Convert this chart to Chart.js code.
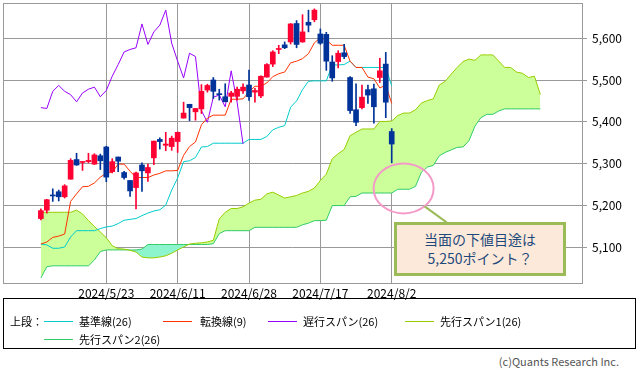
<!DOCTYPE html>
<html>
<head>
<meta charset="utf-8">
<script src="https://cdn.jsdelivr.net/npm/chart.js@4.4.1/dist/chart.umd.min.js"></script>
<style>
  body { margin: 0; background: #fff; }
  #wrap { position: relative; width: 639px; height: 369px; font-family: "Noto Sans CJK JP", sans-serif; color: #000; }
  #c { position: absolute; left: 0; top: 0; }
  #legend { position: absolute; left: 3px; top: 298px; width: 631px; height: 49px; border: 1px solid #000; font-size: 11px; }
  .it { position: absolute; white-space: nowrap; line-height: 14px; }
  .sw { position: absolute; height: 1px; width: 29px; }
  #copy { position: absolute; right: 20px; top: 353px; font-size: 11px; color: #555; }
  #note { position: absolute; left: 394px; top: 222px; width: 172px; height: 54px; box-sizing: border-box;
          border: 3px solid #9bbb59; background: #fde9d9; color: #1f497d; font-size: 14px;
          text-align: center; line-height: 19px; padding-top: 5px; }
</style>
</head>
<body>
<div id="wrap">
  <canvas id="c" width="639" height="300"></canvas>
  <div id="legend">
    <span class="it" style="left:6px;top:15px">上段：</span>
    <span class="sw" style="left:40px;top:22px;background:#00cccc"></span>
    <span class="it" style="left:75px;top:15px">基準線(26)</span>
    <span class="sw" style="left:159px;top:22px;background:#ff3300"></span>
    <span class="it" style="left:196px;top:15px">転換線(9)</span>
    <span class="sw" style="left:264px;top:22px;background:#9900ff"></span>
    <span class="it" style="left:299px;top:15px">遅行スパン(26)</span>
    <span class="sw" style="left:401px;top:22px;background:#99cc00"></span>
    <span class="it" style="left:436px;top:15px">先行スパン1(26)</span>
    <span class="sw" style="left:40px;top:40px;background:#33cc66"></span>
    <span class="it" style="left:75px;top:33px">先行スパン2(26)</span>
  </div>
  <div id="copy">(c)Quants Research Inc.</div>
  <div id="note">当面の下値目途は<br>5,250ポイント？</div>
</div>
<script>
// daily candles 2024/5/8 .. 2024/8/2 (index 0..59)
const opens = [5169,5189,5225,5233,5221,5263,5310,5303,5305,5299,5319,5340,5281,5316,5279,5260,5243,5297,5278,5314,
  5358,5344,5341,5353,5409,5442,5424,5431,5476,5500,5467,5460,5461,5461,5474,5488,5471,5462,5507,5538,
  5573,5584,5591,5635,5591,5638,5644,5610,5609,5543,5544,5565,5506,5429,5434,5477,5479,5506,5538,5377];
const highs = [5192,5215,5240,5237,5250,5312,5325,5305,5325,5324,5323,5342,5312,5316,5282,5260,5280,5302,5299,5354,
  5362,5375,5366,5376,5447,5442,5432,5489,5490,5506,5478,5491,5473,5483,5491,5524,5480,5510,5539,5570,
  5583,5591,5635,5642,5656,5667,5670,5622,5614,5558,5570,5585,5508,5491,5488,5488,5490,5552,5566,5384];
const lows = [5166,5182,5210,5211,5218,5263,5296,5284,5302,5298,5286,5257,5278,5281,5263,5222,5192,5234,5258,5298,
  5335,5331,5332,5327,5409,5403,5404,5420,5471,5456,5452,5448,5447,5452,5468,5451,5447,5458,5507,5532,
  5563,5575,5586,5577,5590,5615,5639,5585,5523,5497,5529,5551,5420,5391,5431,5444,5397,5494,5410,5302];
const closes = [5188,5214,5223,5221,5247,5308,5297,5303.3,5308,5321,5307,5268,5305,5306,5267,5235,5278,5283,5291,5354,
  5353,5347,5361,5375,5421,5434,5432,5473,5487,5473,5465,5448,5469,5478,5483,5460,5475,5509,5537,5567,
  5573,5577,5634,5585,5615,5631,5667,5588,5545,5505,5564,5556,5427,5399,5459,5464,5436,5522,5447,5347];

const tenkan = [5108,5113,5124,5127,5132,5210,5228,5245,5246,5254,5268,5277,5280,5299,5299,5282,5267,5267,5267,5273,
  5277,5283,5283,5284,5320,5341,5352,5393,5409,5416,5416,5416,5454,5454,5455,5472,5485,5485,5493,5508,
  5515,5519,5541,5545,5551,5563,5589,5601,5596,5583,5583,5583,5545,5530,5530,5507,5503,5481,5488,5444];
const kijun = [5108,5106,5098,5098,5101,5125,5140,5140,5140,5140,5145,5149,5151,5157,5165,5167,5169,5176,5182,5187,
  5190,5201,5237,5266,5305,5307,5315,5340,5341,5349,5349,5349,5349,5349,5349,5358,5358,5358,5365,5381,
  5387,5391,5435,5450,5477,5497,5498,5498,5498,5536,5536,5537,5545,5530,5530,5530,5530,5530,5530,5486];
// chikou span: the close plotted 25 sessions back
const chikou = closes.slice(25);
const span1 = [5184,5184,5184,5184,5184,5184,5189,5180,5164,5150,5137,5123,5104,5097,5096,5093,5089,5077,5075,5075,
  5077,5080,5086,5094,5101,5108,5110,5111,5113,5117,5168,5184,5193,5193,5197,5206,5213,5215,5228,5232,
  5225,5218,5221,5224,5230,5234,5242,5260,5275,5312,5324,5334,5367,5375,5383,5383,5383,5401,5401,5402,
  5415,5421,5421,5429,5445,5451,5455,5488,5497,5514,5530,5544,5550,5547,5560,5560,5560,5545,5530,5530,
  5519,5516,5506,5509,5465];
const span2 = [5027,5054,5056,5056,5056,5056,5056,5056,5056,5070,5090,5094,5094,5094,5094,5094,5094,5096,5107,5107,
  5107,5107,5107,5107,5107,5107,5107,5107,5107,5109,5133,5140,5140,5140,5140,5140,5148,5148,5148,5148,
  5148,5148,5148,5148,5154,5158,5164,5164,5165,5200,5200,5200,5221,5222,5230,5230,5230,5230,5230,5230,
  5239,5239,5239,5246,5280,5292,5296,5319,5327,5333,5339,5340,5355,5390,5410,5418,5418,5426,5431,5431,
  5431,5431,5431,5431,5431];

const tickIdx = [11, 23, 35, 47, 59];
const tickLabels = ['2024/5/23', '2024/6/11', '2024/6/28', '2024/7/17', '2024/8/2'];
const yTicks = [5100, 5200, 5300, 5400, 5500, 5600];
const ringIdx = 61, ringVal = 5241;

const up = '#ff0033', down = '#003399';
const candleColors = closes.map((c, i) => c >= opens[i] ? up : down);
const xy = (arr, start) => arr.map((v, i) => ({x: i + (start || 0), y: v}));

Chart.defaults.font.family = '"Noto Sans CJK JP", sans-serif';
Chart.defaults.font.size = 12;
Chart.defaults.color = '#000';

const frame = {
  id: 'frame',
  beforeDatasetsDraw(chart) {
    const a = chart.chartArea, ctx = chart.ctx;
    ctx.save();
    ctx.strokeStyle = '#999';
    ctx.lineWidth = 1;
    ctx.strokeRect(Math.round(a.left) + 0.5, Math.round(a.top) + 0.5, Math.round(a.right - a.left), Math.round(a.bottom - a.top));
    ctx.restore();
  },
  afterDatasetsDraw(chart) {
    const {ctx, scales: {x, y}} = chart;
    const cx = x.getPixelForValue(ringIdx), cy = y.getPixelForValue(ringVal);
    ctx.save();
    ctx.strokeStyle = '#f59ac8';
    ctx.lineWidth = 2;
    ctx.beginPath();
    ctx.ellipse(cx, cy, 30, 25, 0, 0, Math.PI * 2);
    ctx.stroke();
    ctx.strokeStyle = '#9bbb59';
    ctx.beginPath();
    ctx.moveTo(cx + 21, cy + 18);
    ctx.lineTo(cx + 43, cy + 34);
    ctx.stroke();
    ctx.restore();
  }
};

const line = (label, data, color, order) => ({
  type: 'line', label, data, borderColor: color, borderWidth: 1,
  pointRadius: 0, tension: 0, fill: false, order
});

new Chart(document.getElementById('c'), {
  type: 'line',
  data: {
    datasets: [
      {type: 'bar', label: 'body', data: opens.map((o, i) => ({x: i, y: [o, closes[i]]})),
        backgroundColor: candleColors, barThickness: 5, grouped: false, minBarLength: 1, order: 0},
      {type: 'bar', label: 'wick', data: lows.map((l, i) => ({x: i, y: [l, highs[i]]})),
        backgroundColor: candleColors, barThickness: 1, grouped: false, order: 1},
      line('転換線(9)', xy(tenkan), '#ff3300', 2),
      line('基準線(26)', xy(kijun), '#00cccc', 3),
      line('遅行スパン(26)', xy(chikou), '#9900ff', 2),
      Object.assign(line('先行スパン1(26)', xy(span1), '#99cc00', 5),
        {fill: {target: 6, above: '#ccff99', below: '#8cf5cd'}}),
      line('先行スパン2(26)', xy(span2), '#33cc66', 6)
    ]
  },
  options: {
    responsive: false,
    animation: false,
    layout: {padding: {left: 3, top: 3, right: 0, bottom: 0}},
    plugins: {legend: {display: false}, tooltip: {enabled: false}, filler: {drawTime: 'beforeDatasetsDraw'}},
    scales: {
      x: {
        type: 'linear', min: -6.37, max: 91.0, offset: false,
        grid: {color: '#999', drawTicks: false, offset: false},
        border: {color: '#999'},
        afterBuildTicks: s => { s.ticks = tickIdx.map(v => ({value: v})); },
        afterFit: s => { s.height = 17; s.paddingLeft = 0; s.paddingRight = 0; },
        ticks: {padding: 3, maxRotation: 0, autoSkip: false,
          callback: v => tickLabels[tickIdx.indexOf(v)]}
      },
      y: {
        position: 'right', min: 5015, max: 5684,
        grid: {color: '#999', tickLength: 5, offset: false},
        border: {color: '#999'},
        afterBuildTicks: s => { s.ticks = yTicks.map(v => ({value: v})); },
        afterFit: s => { s.width = 57; s.paddingTop = 0; s.paddingBottom = 0; },
        ticks: {padding: 5, callback: v => v.toLocaleString('en-US')}
      }
    }
  },
  plugins: [frame]
});
</script>
</body>
</html>
